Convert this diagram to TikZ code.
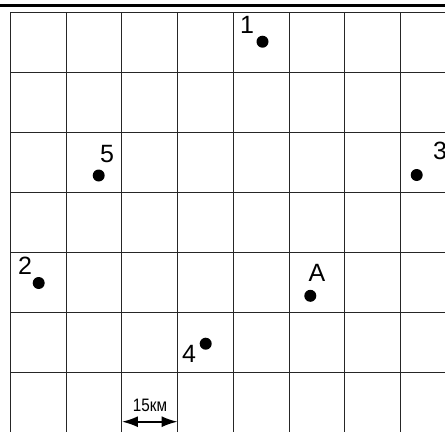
\documentclass[tikz,border=0pt]{standalone}
\usepackage{fontspec}
\setmainfont{Liberation Sans}
\usetikzlibrary{arrows.meta}

\begin{document}
\begin{tikzpicture}[
  x=1pt,y=-1pt,
  gridline/.style={draw=black!85,line width=0.9pt},
  topline/.style={draw=black,line width=2.6pt},
  town/.style={circle,fill=black,inner sep=0pt,minimum size=12pt},
  lbl/.style={inner sep=0pt,font=\fontsize{25}{28}\selectfont},
  scalelbl/.style={inner sep=0pt,xscale=0.85,font=\fontsize{18}{20}\selectfont},
  dim/.style={{Latex[length=16pt,width=11pt]}-{Latex[length=16pt,width=11pt]},line width=1.8pt}]

  \useasboundingbox (0,0) rectangle (445,432);

  % heavy rule on top
  \coordinate (ruleL) at (0,5.7);
  \coordinate (ruleR) at (445,5.7);
  \draw[topline] (ruleL) -- (ruleR);

  % the map grid
  \foreach \i in {0,...,7}
    \draw[gridline] (10.5+55.7*\i,12) -- (10.5+55.7*\i,432);
  \foreach \j in {0,...,6}
    \draw[gridline] (10.5,12+60.15*\j) -- (445,12+60.15*\j);

  % towns and their numbers
  \node[town] (t1) at (262.5,41.7) {};
  \node[lbl] (l1) at (247,25) {1};
  \node[town] (t2) at (38.7,283) {};
  \node[lbl] (l2) at (25,266) {2};
  \node[town] (t3) at (416.7,175) {};
  \node[lbl] (l3) at (440,151) {3};
  \node[town] (t4) at (205.7,343.7) {};
  \node[lbl] (l4) at (189,354) {4};
  \node[town] (t5) at (98.7,175.5) {};
  \node[lbl] (l5) at (107,154) {5};
  \node[town] (tA) at (310.3,295.8) {};
  \node[lbl] (lA) at (317,272.5) {A};

  % scale bar
  \coordinate (sL) at (121.9,421.7);
  \coordinate (sR) at (177.6,421.7);
  \draw[dim] (sL) -- (sR);
  \node[scalelbl] (km) at (150,405) {15км};
\end{tikzpicture}
\end{document}
